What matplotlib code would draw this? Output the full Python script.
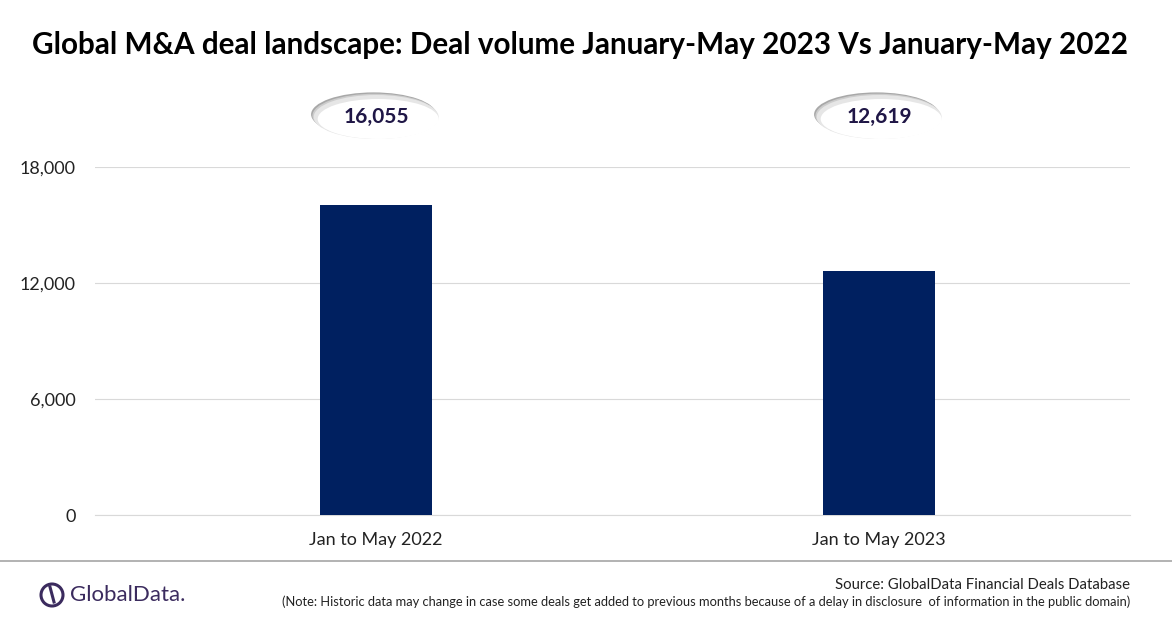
import matplotlib.pyplot as plt
from matplotlib.patches import Ellipse
from matplotlib.lines import Line2D

# DATA
periods = ["Jan to May 2022", "Jan to May 2023"]
deal_volume = [16055, 12619]
y_ticks = [0, 6000, 12000, 18000]

plt.rcParams['font.family'] = ['Lato', 'DejaVu Sans']

fig = plt.figure(figsize=(11.72, 6.28), dpi=100)
W, H = 1172, 628

# axes placed in pixel coords
ax = fig.add_axes([95 / W, 1 - 515 / H, (1130 - 95) / W, (515 - 167) / H])

ax.bar(range(len(periods)), deal_volume, width=0.223, color='#002060', zorder=3)
ax.set_xlim(-0.559, 1.499)
ax.set_ylim(0, 18000)
ax.set_yticks(y_ticks)
ax.set_yticklabels([f"{v:,}" for v in y_ticks], fontsize=13, color='#222222')
ax.set_xticks(range(len(periods)))
ax.set_xticklabels(periods, fontsize=13, color='#222222')
ax.tick_params(length=0, pad=14)
ax.tick_params(axis='x', pad=12)
ax.grid(axis='y', color='#d9d9d9', linewidth=0.8, zorder=0)
for s in ['top', 'right', 'left']:
    ax.spines[s].set_visible(False)
ax.spines['bottom'].set_color('#d9d9d9')

# value labels in ellipses above the plot
for i, v in enumerate(deal_volume):
    xf = (95 + (i + 0.559) * 503) / W
    yf = 1 - 117 / H
    ew, eh = 125 / W, 44 / H
    for k, c in enumerate(['#a8a8a8', '#cccccc', '#e6e6e6']):
        fig.patches.append(Ellipse((xf - (2 - k) * 1.3 / W, yf + (2 - k) * 1.3 / H), ew, eh,
                                   transform=fig.transFigure, facecolor=c, edgecolor='none'))
    fig.patches.append(Ellipse((xf + 2 / W, yf - 2 / H), ew - 4 / W, eh - 4 / H,
                               transform=fig.transFigure, facecolor='white', edgecolor='none'))
    fig.text(xf, yf, f"{v:,}", ha='center', va='center', fontsize=15,
             fontweight='bold', color='#1f1646')

fig.text(580 / W, 1 - 45 / H,
         "Global M&A deal landscape: Deal volume January-May 2023 Vs January-May 2022",
         ha='center', va='center', fontsize=21.3, fontweight='bold', color='black')

# footer
fig.add_artist(Line2D([0, 1], [1 - 561 / H, 1 - 561 / H], transform=fig.transFigure,
                      color='#a6a6a6', linewidth=1.2))
fig.text(1130 / W, 1 - 585 / H, "Source: GlobalData Financial Deals Database",
         ha='right', va='center', fontsize=10.7, color='#222222')
fig.text(1130 / W, 1 - 602 / H,
         "(Note: Historic data may change in case some deals get added to previous months "
         "because of a delay in disclosure  of information in the public domain)",
         ha='right', va='center', fontsize=9.3, color='#222222')

# logo
logo_c = '#3b2b5e'
fig.patches.append(Ellipse((52 / W, 1 - 595 / H), 22 / W, 22 / H, transform=fig.transFigure,
                           facecolor='none', edgecolor=logo_c, linewidth=2.2))
fig.add_artist(Line2D([50 / W, 54 / W], [1 - 587 / H, 1 - 602 / H], transform=fig.transFigure,
                      color=logo_c, linewidth=2.2))
fig.text(70 / W, 1 - 595 / H, "GlobalData.", ha='left', va='center', fontsize=16,
         color=logo_c)

fig.savefig('out.png', dpi=100, facecolor='white')
